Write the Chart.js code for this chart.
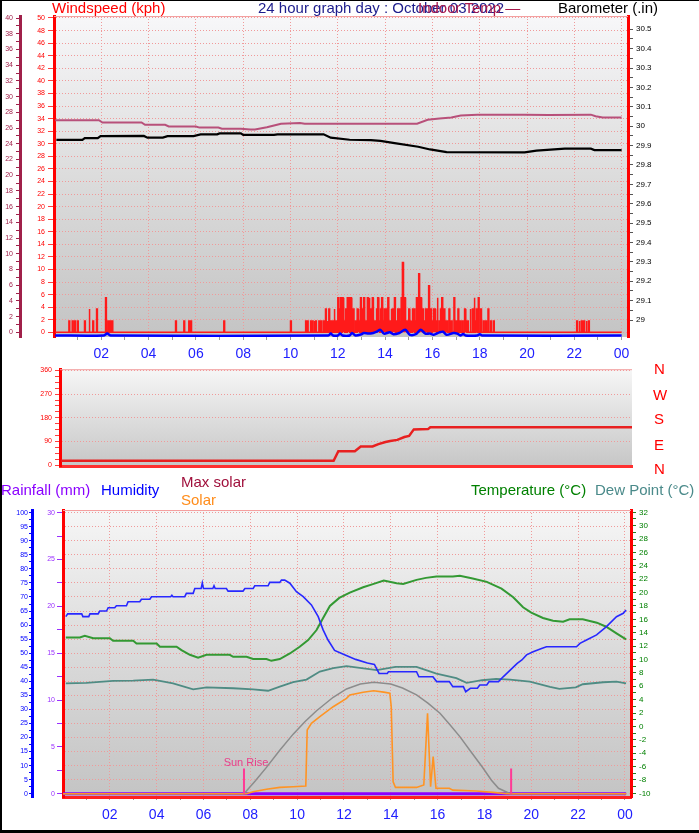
<!DOCTYPE html>
<html>
<head>
<meta charset="utf-8">
<script src="https://cdn.jsdelivr.net/npm/chart.js@4/dist/chart.umd.min.js"></script>
<style>
  html, body { margin: 0; padding: 0; background: #fff; }
  #page { position: relative; width: 699px; height: 833px; overflow: hidden; background: #fff; }
  canvas { position: absolute; left: 0; }
  .lbl { position: absolute; font: 15px "Liberation Sans", Arial, sans-serif; line-height: 15px; white-space: nowrap; }
  .frame { position: absolute; background: #000; }
</style>
</head>
<body>
<div id="page">
  <canvas id="top" width="699" height="365" style="top:0"></canvas>
  <canvas id="mid" width="699" height="112" style="top:362px"></canvas>
  <canvas id="bot" width="699" height="354" style="top:476px"></canvas>

  <div class="lbl" style="left:52px;top:0;color:#ff0000">Windspeed (kph)</div>
  <div class="lbl" style="left:258px;top:0;color:#1c1c8c">24 hour graph day : October 03 2022</div>
  <div class="lbl" style="left:418px;top:0;color:#a8184c">Indoor Temp —</div>
  <div class="lbl" style="left:558px;top:0;color:#000">Barometer (.in)</div>

  <div class="lbl" style="left:654px;top:361px;color:#ff0000">N</div>
  <div class="lbl" style="left:653px;top:387px;color:#ff0000">W</div>
  <div class="lbl" style="left:654px;top:411px;color:#ff0000">S</div>
  <div class="lbl" style="left:654px;top:437px;color:#ff0000">E</div>
  <div class="lbl" style="left:654px;top:461px;color:#ff0000">N</div>

  <div class="lbl" style="left:1px;top:482px;color:#8a00ff">Rainfall (mm)</div>
  <div class="lbl" style="left:101px;top:482px;color:#0000ff">Humidity</div>
  <div class="lbl" style="left:181px;top:474px;color:#a0103c">Max solar</div>
  <div class="lbl" style="left:181px;top:492px;color:#ff8c1a">Solar</div>
  <div class="lbl" style="left:471px;top:482px;color:#008000">Temperature (°C)</div>
  <div class="lbl" style="left:595px;top:482px;color:#4a8a8a">Dew Point (°C)</div>

  <div class="frame" style="left:0;top:0;width:699px;height:1px"></div>
  <div class="frame" style="left:0;top:0;width:2px;height:833px"></div>
  <div class="frame" style="left:0;top:830px;width:699px;height:3px"></div>
</div>

<script>
// ---------- top panel: wind, indoor temp, barometer ----------
const windHours = [
  0.63, 0.77, 0.87, 0.99, 1.29, 1.48, 1.64, 1.80, 2.18, 2.28,
  2.36, 2.45, 5.14, 5.49, 5.70, 5.78, 7.18, 10.00, 10.64, 10.71,
  10.85, 10.92, 11.00, 11.06, 11.20, 11.28, 11.39, 11.48, 11.55, 11.62,
  11.70, 11.77, 11.84, 11.91, 12.00, 12.06, 12.12, 12.19, 12.26, 12.33,
  12.40, 12.47, 12.54, 12.60, 12.65, 12.75, 12.82, 12.89, 12.96, 13.04,
  13.10, 13.18, 13.25, 13.32, 13.39, 13.46, 13.51, 13.56, 13.64, 13.69,
  13.74, 13.81, 13.86, 13.92, 13.97, 14.02, 14.07, 14.12, 14.20, 14.25,
  14.30, 14.35, 14.40, 14.49, 14.54, 14.58, 14.63, 14.68, 14.74, 14.78,
  14.82, 14.87, 14.91, 15.00, 15.05, 15.10, 15.16, 15.22, 15.28, 15.33,
  15.42, 15.46, 15.50, 15.55, 15.59, 15.67, 15.72, 15.76, 15.84, 15.88,
  15.92, 16.00, 16.05, 16.09, 16.14, 16.20, 16.29, 16.35, 16.40, 16.49,
  16.55, 16.60, 16.70, 16.75, 16.80, 16.91, 16.99, 17.08, 17.16, 17.26,
  17.36, 17.42, 17.48, 17.59, 17.69, 17.76, 17.82, 17.86, 17.94, 18.04,
  18.15, 18.25, 18.35, 18.46, 18.58, 22.10, 22.20, 22.30, 22.40, 22.50,
  22.60
];
const windKph = [
  1.8, 1.8, 1.8, 1.8, 1.8, 3.7, 1.8, 3.7, 5.5, 1.8,
  1.8, 1.8, 1.8, 1.8, 1.8, 1.8, 1.8, 1.8, 1.8, 1.8,
  1.8, 1.8, 1.8, 1.8, 1.8, 1.8, 1.8, 3.7, 1.8, 3.7,
  1.8, 1.8, 3.7, 1.8, 5.5, 3.7, 5.5, 5.5, 1.8, 3.7,
  5.5, 5.5, 5.5, 1.8, 3.7, 1.8, 3.7, 1.8, 5.5, 3.7,
  5.5, 1.8, 5.5, 5.5, 3.7, 5.5, 1.8, 1.8, 3.7, 5.5,
  1.8, 3.7, 5.5, 1.8, 3.7, 3.7, 1.8, 5.5, 1.8, 3.7,
  3.7, 1.8, 5.5, 1.8, 3.7, 3.7, 1.8, 5.5, 11.1, 3.7,
  5.5, 1.8, 1.8, 3.7, 1.8, 1.8, 3.7, 3.7, 1.8, 5.5,
  9.3, 3.7, 5.5, 1.8, 3.7, 1.8, 3.7, 3.7, 7.4, 1.8,
  3.7, 1.8, 3.7, 3.7, 1.8, 5.5, 1.8, 3.7, 5.5, 3.7,
  1.8, 1.8, 3.7, 1.8, 1.8, 5.5, 1.8, 3.7, 1.8, 1.8,
  3.7, 1.8, 1.8, 3.7, 3.7, 5.5, 1.8, 3.7, 5.5, 3.7,
  1.8, 1.8, 3.7, 1.8, 1.8, 1.8, 1.8, 1.8, 1.8, 1.8,
  1.8
];

const avgHours = [0.05, 2.1, 2.25, 2.4, 11.6, 11.7, 11.8, 12.0, 12.1, 12.2,
  12.5, 12.6, 12.75, 13.0, 13.1, 13.3, 13.5, 13.65, 13.8, 13.95,
  14.2, 14.35, 14.6, 14.85, 15.05, 15.3, 15.5, 15.7, 15.9, 16.05,
  16.3, 16.45, 16.6, 16.9, 17.05, 17.2, 17.3, 17.4, 17.9, 18.0,
  18.1, 24.0];
const avgKph = [0, 0, 0.3, 0, 0, 0.3, 0, 0, 0.3, 0,
  0, 0.4, 0, 0.2, 0.4, 0.3, 0.4, 0.6, 0.9, 0.3,
  0.5, 0.2, 0.4, 0.9, 0.1, 0.2, 0.9, 0.3, 0.3, 0.1,
  0.5, 0.6, 0.1, 0.4, 0.3, 0, 0.25, 0, 0, 0.2,
  0, 0];

const indoorHours = [0.05, 1.9, 2.05, 3.7, 3.85, 4.7, 4.85, 6.0, 6.15, 6.95,
  7.1, 7.9, 8.3, 8.5, 9.0, 9.6, 10.4, 10.6, 15.35, 15.8,
  16.3, 16.8, 17.2, 17.9, 19.9, 20.9, 22.7, 22.9, 23.2, 24.0];
const indoorTemp = [27.0, 27.0, 26.7, 26.7, 26.4, 26.4, 26.2, 26.2, 26.05, 26.05,
  25.9, 25.9, 25.8, 25.8, 26.1, 26.55, 26.65, 26.55, 26.55, 27.05,
  27.2, 27.35, 27.6, 27.7, 27.7, 27.65, 27.7, 27.5, 27.35, 27.35];

const baroHours = [0.1, 1.2, 1.3, 1.85, 1.97, 3.8, 3.95, 4.6, 4.8, 5.9,
  6.2, 6.9, 7.0, 7.9, 8.0, 9.3, 9.45, 11.4, 11.7, 12.5,
  13.4, 13.8, 14.4, 15.4, 15.9, 16.6, 19.9, 20.4, 21.0, 21.6,
  22.7, 22.85, 24.0];
const baroInHg = [29.929, 29.929, 29.938, 29.938, 29.949, 29.950, 29.941, 29.941, 29.949, 29.949,
  29.958, 29.958, 29.963, 29.963, 29.955, 29.955, 29.958, 29.958, 29.941, 29.930,
  29.928, 29.924, 29.913, 29.894, 29.880, 29.866, 29.865, 29.874, 29.879, 29.884,
  29.884, 29.877, 29.877];

// ---------- middle panel: wind direction ----------
const dirHours = [0.05, 11.6, 11.8, 12.5, 12.75, 13.25, 13.5, 13.8, 14.0, 14.3,
  14.6, 14.8, 15.0, 15.6, 15.7, 24.25];
const dirDeg = [17, 17, 53, 53, 71, 71, 80, 88, 92, 96,
  107, 111, 136, 137, 144, 144];

// ---------- bottom panel: humidity, temperature, dew point, solar, rain ----------
const humHours = [0.12, 0.2, 0.8, 0.85, 1.1, 1.15, 1.5, 1.57, 1.86, 1.93,
  2.21, 2.28, 2.71, 2.78, 3.28, 3.35, 3.71, 3.78, 4.6, 4.65,
  4.7, 5.2, 5.27, 5.56, 5.63, 5.9, 5.95, 6.0, 6.4, 6.45,
  6.5, 6.98, 7.05, 7.69, 7.77, 8.12, 8.19, 8.76, 8.83, 9.26,
  9.33, 9.47, 9.69, 9.97, 10.26, 10.61, 10.9, 11.11, 11.32, 11.6,
  12.0, 12.5, 13.0, 13.3, 13.5, 13.85, 13.9, 15.1, 15.2, 15.8,
  15.96, 16.5, 16.65, 17.1, 17.2, 17.4, 17.7, 17.8, 18.1, 18.2,
  18.6, 18.8, 19.1, 19.4, 19.6, 19.8, 20.08, 20.44, 20.65, 21.93,
  22.08, 22.36, 22.79, 23.2, 23.64, 23.93, 24.05];
const humPct = [63, 64, 64, 63, 63, 64, 64, 65, 65, 66.2,
  66.2, 66.9, 66.9, 68.3, 68.3, 69.2, 69.2, 70.1, 70.1, 70.6,
  70.1, 70.1, 71.3, 71.3, 73, 73, 75, 73, 73, 74,
  73, 73, 72.1, 72.1, 73, 73, 74, 74, 75.2, 75.2,
  76, 76, 74.9, 71.9, 70.1, 67.2, 63, 58.3, 54.7, 51,
  49.5, 47.8, 46.5, 46, 42.8, 42.8, 43.4, 43.4, 41.6, 41.6,
  39.9, 39.9, 38.1, 38.1, 36.3, 37.5, 37.5, 38.7, 38.7, 39.9,
  39.9, 41.6, 44, 46.4, 47.6, 49.4, 50.5, 51.7, 52.3, 52.3,
  53.5, 54.7, 56.5, 59.4, 63, 64.2, 65.4];

const tempHours = [0.12, 0.72, 0.93, 1.29, 2.0, 2.14, 3.0, 3.14, 4.0, 4.14,
  4.85, 5.06, 5.42, 5.77, 6.13, 7.12, 7.27, 7.84, 8.12, 8.69,
  8.9, 9.26, 9.69, 10.11, 10.47, 10.83, 11.11, 11.4, 11.8, 12.25,
  12.82, 13.27, 13.7, 14.25, 14.53, 15.1, 15.5, 15.95, 16.65, 16.95,
  17.5, 18.1, 18.73, 19.23, 19.65, 20.0, 20.5, 20.93, 21.36, 21.64,
  22.2, 22.8, 23.2, 23.64, 24.05];
const tempC = [13.3, 13.3, 13.55, 13.17, 13.17, 12.8, 12.8, 12.4, 12.4, 11.9,
  11.9, 11.4, 10.7, 10.27, 10.7, 10.7, 10.4, 10.4, 10.07, 10.07,
  9.8, 10.07, 10.9, 11.9, 12.9, 14.4, 16.2, 18.0, 19.2, 20.0,
  20.8, 21.3, 21.8, 21.4, 21.3, 21.9, 22.2, 22.4, 22.4, 22.5,
  22.1, 21.6, 20.6, 19.3, 17.8, 17.0, 16.2, 15.8, 15.65, 16.0,
  16.0, 15.5, 14.9, 13.9, 13.0];

const dewHours = [0.12, 1.0, 2.14, 3.0, 3.85, 4.7, 5.56, 6.13, 7.27, 8.12,
  8.76, 9.26, 9.83, 10.4, 10.97, 11.54, 12.11, 13.4, 14.2, 15.1,
  15.95, 16.8, 17.24, 17.9, 18.5, 19.1, 19.94, 20.8, 21.2, 21.9,
  22.2, 23.07, 23.64, 24.05];
const dewC = [6.44, 6.5, 6.8, 6.83, 7.0, 6.44, 5.54, 5.84, 5.7, 5.54,
  5.33, 5.93, 6.6, 7.0, 8.2, 8.7, 9.0, 8.4, 8.9, 8.9,
  7.9, 7.2, 6.5, 6.9, 7.1, 7.0, 6.7, 5.9, 5.6, 5.84,
  6.3, 6.6, 6.7, 6.44];

const maxSolarHours = [0, 7.73, 8.2, 8.69, 9.25, 9.83, 10.33, 10.83, 11.54, 12.11,
  12.7, 13.27, 14.0, 14.5, 15.1, 15.6, 16.1, 16.5, 16.95, 17.4,
  17.9, 18.3, 18.6, 19.1, 24.05];
const maxSolarW = [0, 0, 55, 117, 192, 265, 320, 369, 429, 466,
  488, 496, 488, 470, 440, 402, 358, 310, 254, 190,
  120, 60, 24, 0, 0];

const solarHours = [0, 7.84, 8.12, 8.69, 9.26, 9.83, 10.37, 10.43, 10.61, 10.97,
  11.54, 12.11, 12.25, 12.82, 13.27, 13.7, 13.96, 14.02, 14.1, 14.2,
  15.1, 15.41, 15.57, 15.7, 15.81, 15.93, 16.5, 16.65, 17.65, 18.37,
  18.94, 24.05];
const solarW = [0, 0, 9, 20, 28, 31, 34, 283, 313, 343,
  387, 424, 439, 451, 458, 452, 447, 387, 53, 28,
  28, 39, 358, 31, 165, 24, 24, 16, 12, 6,
  0, 0];

const rainHours = [0, 24.05];
const rainMm = [0, 0];

const sunHours = [7.73, 19.14];   // sunrise, sunset
const sunMarkMm = 2.7;

// ---------- helpers ----------
const FONT = '"Liberation Sans", Arial, sans-serif';
const NONE = 'rgba(0,0,0,0)';
const GRID = '#f09a9a';

function pts(xs, ys) { return xs.map((x, i) => ({ x: x, y: ys[i] })); }
function pulses(hours, vals, w) {
  const out = [{ x: 0.05, y: 0 }];
  hours.forEach((h, i) => {
    out.push({ x: h, y: 0 }, { x: h, y: vals[i] }, { x: h + w, y: vals[i] }, { x: h + w, y: 0 });
  });
  out.push({ x: 24.0, y: 0 });
  return out;
}
function sunMarks() {
  const out = [];
  sunHours.forEach((h, i) => {
    if (i) out.push({ x: h - 0.01, y: null });
    out.push({ x: h, y: 0 }, { x: h, y: sunMarkMm });
  });
  return out;
}
// ticks at lo, lo+step, ... hi (Chart.js would otherwise snap the end ticks to min/max)
function tickRange(lo, hi, step) {
  return s => {
    const t = [];
    const n = Math.round((hi - lo) / step);
    for (let i = 0; i <= n; i++) t.push({ value: +(lo + i * step).toFixed(4) });
    s.ticks = t;
  };
}
function fixWidth(w) { return s => { s.width = w; }; }
function fixHeight(h) { return s => { s.height = h; s.paddingLeft = 0; s.paddingRight = 0; }; }
function every(n) { return v => Math.abs(v / n - Math.round(v / n)) < 1e-6; }
const isEven = every(2);
function hourLabel(v) { return isEven(v) ? String(v % 24).padStart(2, '0') : ''; }
function lineSet(label, data, axis, color, width, order) {
  return { label, data, yAxisID: axis, borderColor: color, borderWidth: width, pointRadius: 0, fill: false, order: order || 0 };
}

function panelBg(stops) {
  return {
    id: 'panelBg',
    beforeDraw(chart) {
      const { ctx, chartArea: a } = chart;
      const g = ctx.createLinearGradient(0, a.top, 0, a.bottom);
      stops.forEach(s => g.addColorStop(s[0], s[1]));
      ctx.save();
      ctx.fillStyle = g;
      ctx.fillRect(a.left, a.top, a.right - a.left, a.bottom - a.top);
      ctx.restore();
    },
    afterDraw(chart) {
      const { ctx, chartArea: a } = chart;
      ctx.save();
      ctx.strokeStyle = '#f4a0a0';
      ctx.lineWidth = 1;
      ctx.beginPath();
      ctx.moveTo(a.left, a.top + 0.5);
      ctx.lineTo(a.right, a.top + 0.5);
      ctx.stroke();
      ctx.restore();
    }
  };
}

const hourAxis = (max, h, pad) => ({
  type: 'linear', min: 0, max: max,
  afterBuildTicks: tickRange(1, 24, 1), afterFit: fixHeight(h),
  ticks: { autoSkip: false, maxRotation: 0, padding: pad, color: '#2020ff',
           font: { family: FONT, size: 14 }, callback: hourLabel },
  grid: { color: c => (c.tick && isEven(c.tick.value)) ? GRID : NONE, tickColor: '#9a9a9a',
          tickLength: 3, lineWidth: 1, borderDash: [1, 2] },
  border: { display: false, dash: [1, 2] }
});

const baseOptions = {
  responsive: false, animation: false, events: [],
  plugins: { legend: { display: false }, tooltip: { enabled: false } },
  elements: { line: { tension: 0 } }
};

// ---------- top chart ----------
new Chart(document.getElementById('top'), {
  type: 'line',
  data: { datasets: [
    lineSet('Windspeed', pulses(windHours, windKph, 0.035), 'yWind', '#ff1a1a', 1.5, 3),
    Object.assign(lineSet('Average', pts(avgHours, avgKph), 'yAvg', '#0000ff', 2.5, 1), { tension: 0.3 }),
    lineSet('Indoor Temp', pts(indoorHours, indoorTemp), 'yIn', '#b8507a', 2, 2),
    lineSet('Barometer', pts(baroHours, baroInHg), 'yBaro', '#000000', 2.2, 0)
  ]},
  options: Object.assign({}, baseOptions, {
    layout: { padding: { top: 16, right: 36, bottom: 0, left: 0 } },
    scales: {
      x: hourAxis(24.27, 28, 6),
      yIn: {
        position: 'left', weight: 1, min: -0.598, max: 40.255,
        afterBuildTicks: tickRange(0, 40, 1), afterFit: fixWidth(20),
        ticks: { autoSkip: false, padding: 3, color: '#a0204a',
                 font: { family: FONT, size: 7 }, callback: v => isEven(v) ? v : '' },
        grid: { drawOnChartArea: false, tickLength: 4, tickColor: '#a0204a' },
        border: { color: '#a0204a', width: 3 }
      },
      yWind: {
        position: 'left', weight: 0, min: -0.748, max: 50.318,
        afterBuildTicks: tickRange(0, 50, 2), afterFit: fixWidth(34),
        ticks: { autoSkip: false, padding: 3, color: '#ff0000',
                 font: { family: FONT, size: 7 } },
        grid: { color: GRID, tickColor: '#ff4040', tickLength: 6, lineWidth: 1, borderDash: [1, 2] },
        border: { color: '#ff0000', width: 3, dash: [1, 2] }
      },
      yBaro: {
        position: 'right', min: 28.9123, max: 30.5686,
        afterBuildTicks: tickRange(29, 30.5, 0.05), afterFit: fixWidth(35),
        ticks: { autoSkip: false, padding: 3, color: '#000',
                 font: { family: FONT, size: 8 }, callback: v => every(0.1)(v) ? String(+v.toFixed(1)) : '' },
        grid: { drawOnChartArea: false, tickLength: 5, tickColor: '#555' },
        border: { color: '#ff0000', width: 3 }
      },
      yAvg: { display: false, min: -0.24, max: 50.83 }
    }
  }),
  plugins: [panelBg([[0, '#f7f7f9'], [0.5, '#dcdcdc'], [1, '#c4c4c4']])]
});

// ---------- middle chart ----------
new Chart(document.getElementById('mid'), {
  type: 'line',
  data: { datasets: [
    lineSet('Wind direction', pts(dirHours, dirDeg), 'y', '#e82020', 2.5, 0)
  ]},
  options: Object.assign({}, baseOptions, {
    layout: { padding: { top: 5, right: 67, bottom: 0, left: 0 } },
    scales: {
      x: { type: 'linear', min: 0, max: 24.25, afterFit: fixHeight(5),
           ticks: { display: false }, grid: { display: false },
           border: { color: '#ff3030', width: 3 } },
      y: {
        position: 'left', min: -6.2, max: 364.7,
        afterBuildTicks: tickRange(0, 360, 22.5), afterFit: fixWidth(60),
        ticks: { autoSkip: false, padding: 3, color: '#ff0000',
                 font: { family: FONT, size: 7 }, callback: v => every(90)(v) ? v : '' },
        grid: { color: c => (c.tick && every(90)(c.tick.value)) ? GRID : NONE, tickColor: '#ff4040',
                tickLength: 5, lineWidth: 1, borderDash: [1, 2] },
        border: { color: '#ff0000', width: 3, dash: [1, 2] }
      }
    }
  }),
  plugins: [panelBg([[0, '#f6f6f6'], [0.5, '#dedede'], [1, '#c6c6c6']])]
});

// ---------- bottom chart ----------
const sunLabel = {
  id: 'sunLabel',
  afterDatasetsDraw(chart) {
    const { ctx, scales } = chart;
    const x = scales.x.getPixelForValue(sunHours[0]);
    const y = scales.yRain.getPixelForValue(sunMarkMm) - 2;
    ctx.save();
    ctx.font = '11px ' + FONT;
    ctx.fillStyle = '#e8408a';
    ctx.textAlign = 'center';
    ctx.textBaseline = 'alphabetic';
    ctx.fillText('Sun Rise', x + 2, y);
    ctx.restore();
  }
};

new Chart(document.getElementById('bot'), {
  type: 'line',
  data: { datasets: [
    lineSet('Rainfall', pts(rainHours, rainMm), 'yRain', '#8a00ff', 3, 6),
    lineSet('Max solar', pts(maxSolarHours, maxSolarW), 'ySolar', '#8c8c8c', 1.5, 5),
    lineSet('Dew Point', pts(dewHours, dewC), 'yTemp', '#4f8c84', 1.8, 4),
    lineSet('Temperature', pts(tempHours, tempC), 'yTemp', '#339933', 2, 3),
    lineSet('Humidity', pts(humHours, humPct), 'yHum', '#2828ff', 1.6, 2),
    lineSet('Solar', pts(solarHours, solarW), 'ySolar', '#ff9424', 1.6, 1),
    Object.assign(lineSet('Sun', sunMarks(), 'yRain', '#ff3a96', 2, 0), { spanGaps: false })
  ]},
  options: Object.assign({}, baseOptions, {
    layout: { padding: { top: 34, right: 33, bottom: 0, left: 0 } },
    scales: {
      x: Object.assign(hourAxis(24.26, 33, 7), { border: { color: '#ff2020', width: 3, dash: [1, 2] } }),
      yHum: {
        position: 'left', weight: 1, min: -1.174, max: 100.96,
        afterBuildTicks: tickRange(0, 100, 2.5), afterFit: fixWidth(32),
        ticks: { autoSkip: false, padding: 1, color: '#0000ff',
                 font: { family: FONT, size: 7 }, callback: v => every(5)(v) ? v : '' },
        grid: { color: c => (c.tick && every(5)(c.tick.value)) ? GRID : NONE, tickColor: '#0000ff',
                tickLength: 3, lineWidth: 1, borderDash: [1, 2] },
        border: { color: '#0000ff', width: 3, dash: [1, 2] }
      },
      yRain: {
        position: 'left', weight: 0, min: -0.352, max: 30.288,
        afterBuildTicks: tickRange(0, 30, 2.5), afterFit: fixWidth(31),
        ticks: { autoSkip: false, padding: 2, color: '#9a30ff',
                 font: { family: FONT, size: 7 }, callback: v => every(5)(v) ? v : '' },
        grid: { drawOnChartArea: false, tickLength: 6, tickColor: '#9a30ff' },
        border: { color: '#ff0000', width: 3 }
      },
      yTemp: {
        position: 'right', min: -10.553, max: 32.344,
        afterBuildTicks: tickRange(-10, 32, 1), afterFit: fixWidth(35),
        ticks: { autoSkip: false, padding: 3, color: '#008000',
                 font: { family: FONT, size: 8 }, callback: v => isEven(v) ? v : '' },
        grid: { drawOnChartArea: false, tickLength: 5, tickColor: '#208020' },
        border: { color: '#ff0000', width: 3 }
      },
      ySolar: { display: false, min: -14.68, max: 1262 }
    }
  }),
  plugins: [panelBg([[0, '#f6f6f6'], [0.5, '#dadada'], [1, '#c4c4c4']]), sunLabel]
});
</script>
</body>
</html>
